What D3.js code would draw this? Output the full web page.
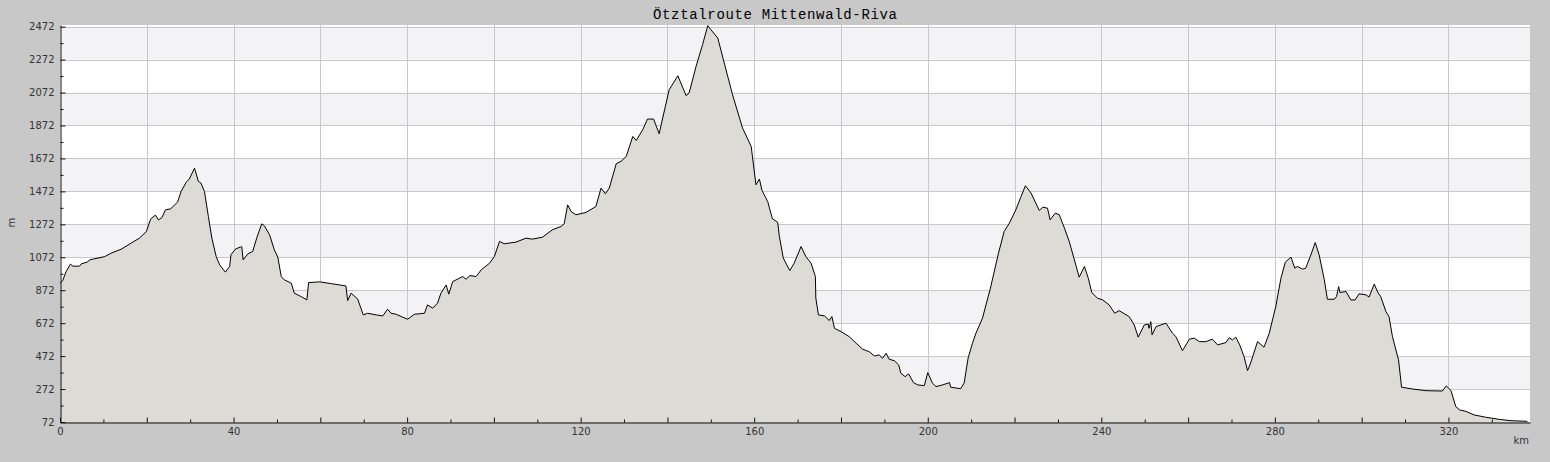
<!DOCTYPE html>
<html>
<head>
<meta charset="utf-8">
<title>Ötztalroute Mittenwald-Riva</title>
<style type="text/css">
body { margin:0; background:#c8c8c8; }
.axis text { font-family:"DejaVu Sans", sans-serif; font-size:10px; fill:#333; }
.axis line, .axis path { stroke:#111; }
.grid line { stroke:#c8c8c8; stroke-width:1px; }
</style>
</head>
<body>
<div id="chart"></div>
<script src="https://cdn.jsdelivr.net/npm/d3@7"></script>
<script type="text/javascript">

var title = "Ötztalroute Mittenwald-Riva";

// distance along route (km)
var distKm = [0,0.6,1.4,2.4,3.0,4.5,4.9,6.4,6.8,10.3,11.8,14.1,16.4,18.3,19.9,20.9,22.0,22.7,23.5,24.3,25.5,27.1,27.9,29.1,29.8,31.0,31.9,32.5,33.3,34.2,35.0,36.0,36.8,38.1,39.1,39.4,40.4,41.6,41.9,42.2,43.3,44.4,45.4,46.5,47.1,48.3,49.4,50.2,51.0,51.7,53.3,54.0,55.6,56.9,57.3,59.8,62.5,65.9,66.3,67.1,68.6,69.9,70.9,72.9,74.4,75.5,76.3,77.5,79.0,80.1,81.7,84.0,84.7,85.9,87.0,87.8,89.0,89.6,90.5,92.8,93.6,94.5,95.9,97.1,99.0,100.1,101.3,102.4,105.1,107.4,108.9,111.2,113.5,115.5,116.2,117.0,117.8,118.9,121.2,123.5,124.7,125.7,126.6,128.2,129.3,130.5,132.0,132.8,134.3,135.4,136.8,138.1,138.5,140.4,142.4,144.3,145.0,146.6,148.1,149.3,150.0,151.6,153.1,155.0,157.3,159.3,160.4,161.2,161.8,163.1,164.2,165.4,165.8,166.7,168.2,169.2,170.8,171.9,173.1,174.1,174.2,174.8,176.2,177.3,177.9,178.5,180.0,181.9,183.5,185.0,186.5,187.7,188.8,189.6,190.4,191.1,192.3,193.3,193.8,194.8,195.6,196.7,197.7,199.2,200.0,201.1,201.9,203.4,205.0,205.3,207.6,208.4,209.3,210.3,211.1,212.6,214.4,216.3,217.6,218.8,220.3,221.5,222.5,223.8,225.7,226.5,227.6,228.2,229.4,230.3,231.5,232.6,233.8,234.9,236.1,237.0,237.8,239.1,240.3,241.8,243.1,244.1,246.4,247.6,248.5,249.9,250.8,251.0,251.4,251.7,252.6,254.9,256.4,257.2,258.7,260.3,261.4,262.6,264.1,265.6,266.8,268.7,269.5,270.2,271.0,271.9,272.9,273.7,274.4,276.0,277.5,278.7,280.2,281.4,282.4,283.7,284.6,285.2,286.4,287.1,288.3,289.3,290.2,291.4,292.1,293.7,294.2,294.7,295.0,296.4,297.5,298.5,299.4,301.0,301.7,302.9,303.7,304.4,305.6,306.3,307.1,308.5,309.2,311.8,314.9,318.6,319.5,320.6,321.7,322.6,324.0,325.9,328.6,331.7,334.4,338.2];

// elevation (m)
var elevM = [915,929,985,1030,1018,1018,1032,1044,1056,1076,1097,1121,1158,1188,1228,1305,1328,1299,1313,1360,1366,1407,1471,1528,1547,1613,1532,1522,1471,1319,1188,1076,1026,982,1016,1087,1121,1135,1135,1056,1093,1107,1194,1275,1263,1208,1117,1073,955,935,915,854,833,813,918,923,912,898,809,854,819,722,732,722,716,757,732,726,708,696,726,732,783,763,793,854,904,848,924,955,939,961,955,996,1036,1076,1168,1154,1164,1188,1182,1194,1239,1259,1275,1390,1350,1330,1344,1380,1492,1457,1492,1640,1654,1684,1805,1781,1846,1911,1911,1822,1870,2089,2174,2053,2069,2231,2363,2478,2454,2403,2251,2059,1857,1745,1512,1547,1477,1411,1305,1285,1198,1067,991,1036,1137,1076,1036,955,824,722,716,688,712,641,621,590,550,514,499,473,479,459,489,453,444,418,368,347,364,311,297,293,372,307,287,297,311,283,274,310,460,550,611,702,880,1097,1228,1279,1360,1441,1506,1462,1356,1376,1370,1299,1340,1330,1249,1168,1056,951,1016,945,858,824,813,783,732,748,712,661,587,661,667,641,681,601,651,672,611,590,505,575,581,560,560,575,540,554,584,570,587,540,469,384,429,560,526,611,772,945,1042,1073,1006,1016,1000,1006,1087,1161,1087,935,817,817,833,894,858,864,813,813,850,844,830,909,860,833,742,712,590,449,283,272,262,260,291,262,165,145,137,115,101,88,80,76];

var yTicks = [72,272,472,672,872,1072,1272,1472,1672,1872,2072,2272,2472];
var xTicks = [0,40,80,120,160,200,240,280,320];

var W = 1550, H = 462;
var plot = {left:60, right:1530, top:25, bottom:422};

var x = d3.scaleLinear().domain([0, 338.8]).range([plot.left, plot.right]);
var y = d3.scaleLinear().domain([72, 2482]).range([plot.bottom, plot.top]);

var svg = d3.select("#chart").append("svg")
	.attr("width", W)
	.attr("height", H)
	.style("display", "block");

svg.append("rect").attr("width", W).attr("height", H).attr("fill", "#c8c8c8");

// plot background + alternating bands
svg.append("rect")
	.attr("x", plot.left).attr("y", plot.top)
	.attr("width", plot.right - plot.left).attr("height", plot.bottom - plot.top)
	.attr("fill", "#fff");

var bands = yTicks.filter(function(d, i){ return i % 2 == 1; });
svg.selectAll(".band")
	.data(bands)
	.enter().append("rect")
	.attr("class", "band")
	.attr("x", plot.left)
	.attr("width", plot.right - plot.left)
	.attr("y", function(d){ return y(d + 200); })
	.attr("height", function(d){ return y(d) - y(d + 200); })
	.attr("fill", "#f3f2f5");

// grid
var grid = svg.append("g").attr("class", "grid");
grid.selectAll(".hg")
	.data(yTicks.slice(1))
	.enter().append("line")
	.attr("x1", plot.left).attr("x2", plot.right)
	.attr("y1", function(d){ return Math.round(y(d)) + 0.5; })
	.attr("y2", function(d){ return Math.round(y(d)) + 0.5; });
grid.selectAll(".vg")
	.data(d3.range(20, 338, 20))
	.enter().append("line")
	.attr("y1", plot.top).attr("y2", plot.bottom)
	.attr("x1", function(d){ return Math.round(x(d)) + 0.5; })
	.attr("x2", function(d){ return Math.round(x(d)) + 0.5; });

// profile
var profile = distKm.map(function(d, i){ return {km:d, m:elevM[i]}; });

svg.append("path")
	.datum(profile)
	.attr("fill", "#dcdbd6")
	.attr("d", d3.area()
		.x(function(d){ return x(d.km); })
		.y0(plot.bottom)
		.y1(function(d){ return y(d.m); }));

svg.append("path")
	.datum(profile)
	.attr("fill", "none")
	.attr("stroke", "#000")
	.attr("stroke-width", 1)
	.attr("d", d3.line()
		.x(function(d){ return x(d.km); })
		.y(function(d){ return y(d.m); }));

// axes
var yAxis = svg.append("g").attr("class", "axis")
	.attr("transform", "translate(" + (plot.left + 0.5) + ",0)");
yAxis.call(d3.axisLeft(y).tickValues(yTicks).tickFormat(d3.format("d"))
	.tickSize(-5).tickSizeOuter(0).tickPadding(6));
yAxis.append("g").call(d3.axisLeft(y).tickValues(yTicks.slice(1).map(function(d){ return d - 100; }))
	.tickSize(-3).tickSizeOuter(0).tickFormat(""))
	.select(".domain").remove();

var xAxis = svg.append("g").attr("class", "axis")
	.attr("transform", "translate(0," + (plot.bottom + 0.5) + ")");
xAxis.call(d3.axisBottom(x).tickValues(xTicks).tickFormat(d3.format("d"))
	.tickSize(-5).tickSizeOuter(0).tickPadding(5));
xAxis.append("g").call(d3.axisBottom(x).tickValues(d3.range(20, 338, 40))
	.tickSize(-5).tickSizeOuter(0).tickFormat(""))
	.select(".domain").remove();
xAxis.append("g").call(d3.axisBottom(x).tickValues(d3.range(10, 338, 20))
	.tickSize(-3).tickSizeOuter(0).tickFormat(""))
	.select(".domain").remove();

svg.selectAll(".axis .tick line").attr("stroke", "#111");

// labels
svg.append("text")
	.attr("x", 1529).attr("y", 444)
	.attr("text-anchor", "end")
	.style("font-family", "DejaVu Sans, sans-serif")
	.style("font-size", "10px")
	.attr("fill", "#333")
	.text("km");

svg.append("text")
	.attr("transform", "translate(15,222.5) rotate(-90)")
	.attr("text-anchor", "middle")
	.style("font-family", "DejaVu Sans, sans-serif")
	.style("font-size", "10px")
	.attr("fill", "#333")
	.text("m");

svg.append("text")
	.attr("x", 653).attr("y", 18.5)
	.attr("textLength", 244)
	.attr("lengthAdjust", "spacing")
	.style("font-family", "Liberation Mono, DejaVu Sans Mono, monospace")
	.style("font-size", "14px")
	.attr("fill", "#000")
	.text(title);

</script>
</body>
</html>
